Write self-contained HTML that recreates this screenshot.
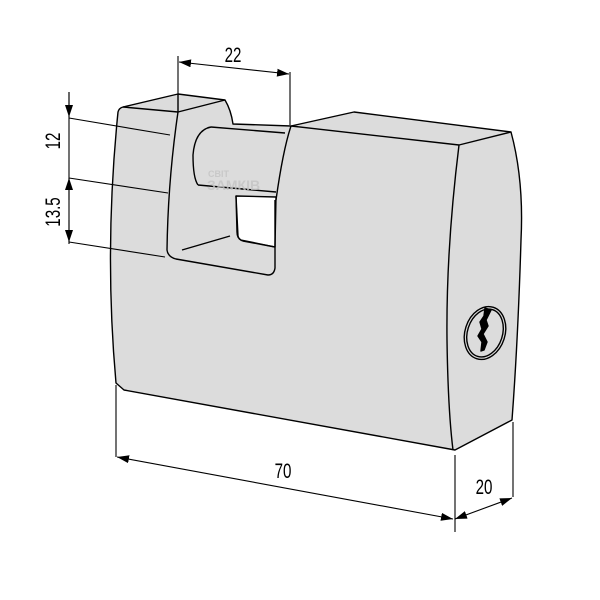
<!DOCTYPE html>
<html><head><style>html,body{margin:0;padding:0;background:#fff}svg{display:block}</style></head>
<body>
<svg width="600" height="600" viewBox="0 0 600 600" xmlns="http://www.w3.org/2000/svg">
<defs>
<marker id="a" markerWidth="12" markerHeight="8" refX="12" refY="4" orient="auto" markerUnits="userSpaceOnUse"><path d="M0,0L12,4L0,8z" fill="#000"/></marker>
<marker id="b" markerWidth="12" markerHeight="8" refX="0" refY="4" orient="auto" markerUnits="userSpaceOnUse"><path d="M12,0L0,4L12,8z" fill="#000"/></marker>
</defs>
<g stroke="#000" stroke-width="1.4" fill="#dcdcdc" stroke-linejoin="round">
<path d="M123,107 L178,94 L225,100 Q231,110 233,124 L291,126 L354,112 L511,132 Q524,180 521,240 Q518,340 512,420 L455,450 L124,390 L116,383 Q104,250 118,112 Q119,108 123,107 Z"/>
<path d="M236,196 L276,197 L275,247 L241,240 Q237,238 237,232 Z" fill="#fff"/>
<path d="M236,196 L238,236 Q239,240 243,241 L275,247" fill="none"/>
<path d="M123,107 L178,112 L225,100" fill="none"/>
<path d="M178,94 L178,112" fill="none"/>
<path d="M291,126 L459,145 L511,132" fill="none"/>
<path d="M178,112 Q168,180 167,250 Q168,257 176,259 L268,275 Q274,275 275,268 L275,200" fill="none"/>
<path d="M291,126 Q283,150 276,200" fill="none"/>
<path d="M211,127 L285,133 M198,185 L276,192" fill="none"/>
<path d="M211,127 Q195,130 193,155 Q193,178 198,185" fill="none"/>
<path d="M182,250 L230,236" fill="none"/>
<path d="M459,145 Q446,250 447,340 Q448,410 453,450" fill="none"/>
<ellipse cx="485" cy="333" rx="20" ry="27" transform="rotate(18 485 333)" fill="none"/>
<ellipse cx="485" cy="333" rx="17.5" ry="24.5" transform="rotate(18 485 333)" fill="none"/>
<path d="M485,308 L491,310 L486,320 L488,326 L483,334 L487,342 L484,350 L481,351 L482,342 L478,336 L482,329 L480,322 L484,316 Z" fill="#000"/>
</g>
<g stroke="#000" stroke-width="1.1" fill="none">
<path d="M178,56V94 M290,72V125"/>
<path d="M179,62 L289,74" marker-start="url(#b)" marker-end="url(#a)"/>
<path d="M69,92V244"/>
<path d="M69,92 L69,117" marker-end="url(#a)"/>
<path d="M69,178 L69,200" marker-start="url(#b)"/>
<path d="M69,220 L69,242" marker-end="url(#a)"/>
<path d="M69,118 L170,135 M69,178 L168,193 M69,242 L165,257"/>
<path d="M116,385V457 M455,455V532 M513,422V497"/>
<path d="M117,457 L453,519" marker-start="url(#b)" marker-end="url(#a)"/>
<path d="M455,519 L512,498" marker-start="url(#b)" marker-end="url(#a)"/>
</g>
<g font-family="Liberation Sans, sans-serif" font-size="21" fill="#000" text-anchor="middle">
<text transform="translate(233,62) scale(0.72,1)">22</text>
<text transform="translate(283,478) scale(0.72,1)">70</text>
<text transform="translate(484,494) scale(0.72,1)">20</text>
<text transform="translate(60,141) rotate(-90) scale(0.72,1)">12</text>
<text transform="translate(60,212) rotate(-90) scale(0.72,1)">13.5</text>
</g>
<g font-family="Liberation Sans, sans-serif" font-weight="bold" fill="#c4c4c4" opacity="0.8">
<text x="208" y="177" font-size="9">СВІТ</text>
<text x="207" y="190" font-size="14">ЗАМКІВ</text>
</g>
</svg>
</body></html>
